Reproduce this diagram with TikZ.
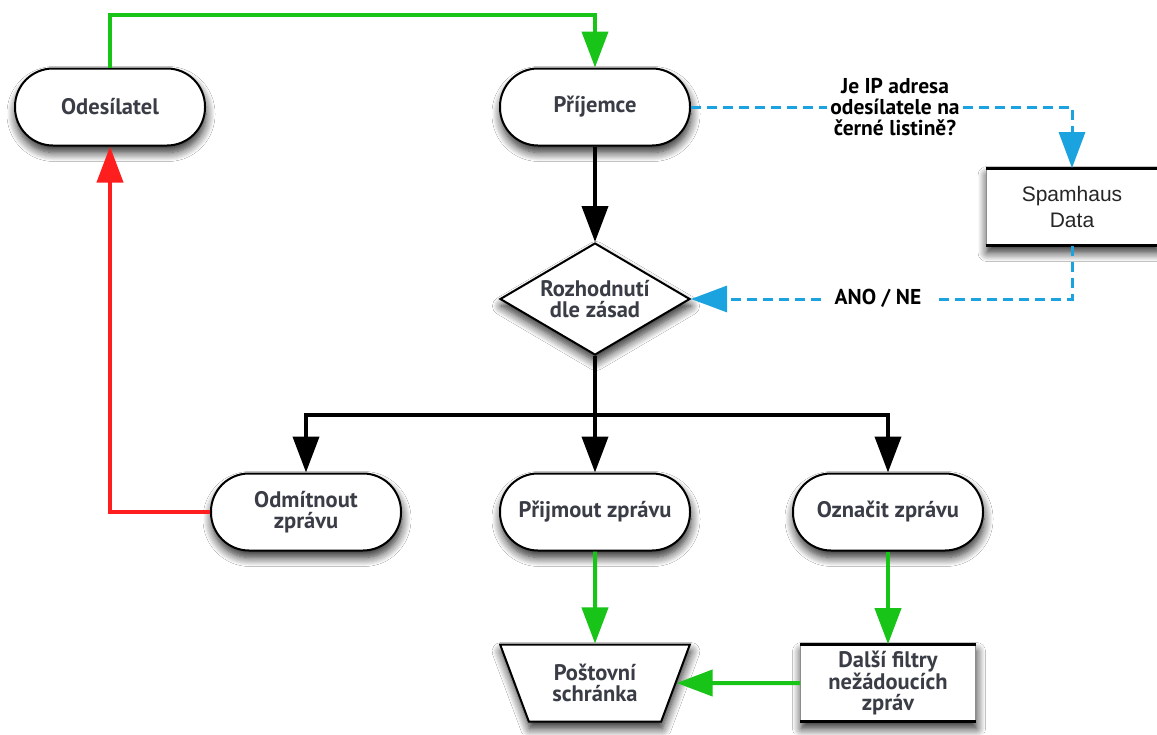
\documentclass[tikz,border=0pt]{standalone}
\usepackage{fontspec}
\setmainfont{PT Sans}
\newfontfamily\plainfont{Liberation Sans}
\usetikzlibrary{arrows.meta,shapes.geometric,shadows.blur}
\definecolor{txt}{HTML}{3A3D46}
\definecolor{flowgreen}{HTML}{17C417}
\definecolor{flowred}{HTML}{FF1E1E}
\definecolor{flowblue}{HTML}{1BA3E0}
\tikzset{
  softshadow/.style={blur shadow={shadow xshift=1pt,shadow yshift=-7pt,
      shadow blur radius=9pt,shadow blur steps=10,shadow opacity=85}},
  boxtext/.style={text=txt,font=\fontsize{22.5}{21}\selectfont\bfseries,align=center},
  term/.style={draw=black,line width=2pt,fill=white,rounded corners=38pt,
      minimum width=190pt,minimum height=77pt,inner sep=0pt,boxtext,softshadow},
  decision/.style={diamond,draw=black,line width=2pt,fill=white,aspect=1.7,
      minimum width=190pt,minimum height=112pt,inner sep=0pt,boxtext,softshadow},
  store/.style={trapezium,shape border rotate=180,trapezium angle=64,
      trapezium stretches=true,draw=black,line width=2pt,fill=white,
      minimum width=190pt,minimum height=77pt,inner sep=0pt,boxtext,softshadow},
  procbox/.style={rectangle,draw=black!45,line width=0.8pt,fill=white,
      minimum height=77pt,inner sep=0pt,softshadow},
  tip/.style={-{Triangle[length=36pt,width=26pt]}},
  blackflow/.style={draw=black,line width=4pt,tip},
  greenflow/.style={draw=flowgreen,line width=4pt,tip},
  redflow/.style={draw=flowred,line width=4pt,tip},
  blueflow/.style={draw=flowblue,line width=3pt,dash pattern=on 10pt off 6pt,
      -{Triangle[length=36pt,width=26pt]}},
  edgelabel/.style={fill=white,inner sep=3pt,text=black,
      font=\fontsize{21.5}{21}\selectfont\bfseries,align=center},
}
\begin{document}
\begin{tikzpicture}[x=1pt,y=-1pt]
  \fill[white] (0,0) rectangle (1157,734);
  \useasboundingbox (0,0) rectangle (1157,734);

  % nodes
  \node[term] (snd) at (110,107) {Odesílatel};
  \node[term] (rcv) at (595,107) {Příjemce};
  \node[procbox,minimum width=172pt,align=center,
        font=\plainfont\fontsize{21}{26}\selectfont,text=black!85] (spam) at (1072,207) {Spamhaus\\Data};
  \node[decision] (dec) at (595,299) {Rozhodnutí\\dle zásad};
  \node[term] (rej) at (306,512) {Odmítnout\\zprávu};
  \node[term] (acc) at (595,512) {Přijmout zprávu};
  \node[term] (tag) at (888,512) {Označit zprávu};
  \node[store] (mail) at (595,683) {Poštovní\\schránka};
  \node[procbox,minimum width=175pt,boxtext] (filt) at (888,683) {Další filtry\\nežádoucích\\zpráv};

  % heavy top and bottom edges of the rectangular boxes
  \foreach \b in {spam,filt}{
    \draw[line width=3pt] (\b.north west) -- (\b.north east);
    \draw[line width=3pt] (\b.south west) -- (\b.south east);
  }

  % routing points
  \coordinate (gtop) at (0,15);
  \coordinate (split) at (595,415);

  % connectors
  \draw[greenflow] (snd.north) |- (rcv.north |- gtop) -- (rcv.north);
  \draw[blackflow] (rcv.south) -- (dec.north);
  \draw[line width=4pt] (dec.south) -- (split);
  \draw[blackflow] (split) -- (acc.north);
  \draw[blackflow] (split) -| (rej.north);
  \draw[blackflow] (split) -| (tag.north);
  \draw[redflow] (rej.west) -| (snd.south);
  \draw[greenflow] (acc.south) -- (mail.north);
  \draw[greenflow] (tag.south) -- (filt.north);
  \draw[greenflow] (filt.west) -- (mail.east);
  \draw[blueflow] (rcv.east) -| (spam.north);
  \draw[blueflow] (spam.south) |- (dec.east);

  % connector labels
  \node[edgelabel] (q) at (895,107) {Je IP adresa\\odesílatele na\\černé listině?};
  \node[edgelabel,inner xsep=12pt] (ans) at (878,298) {ANO / NE};
\end{tikzpicture}
\end{document}
